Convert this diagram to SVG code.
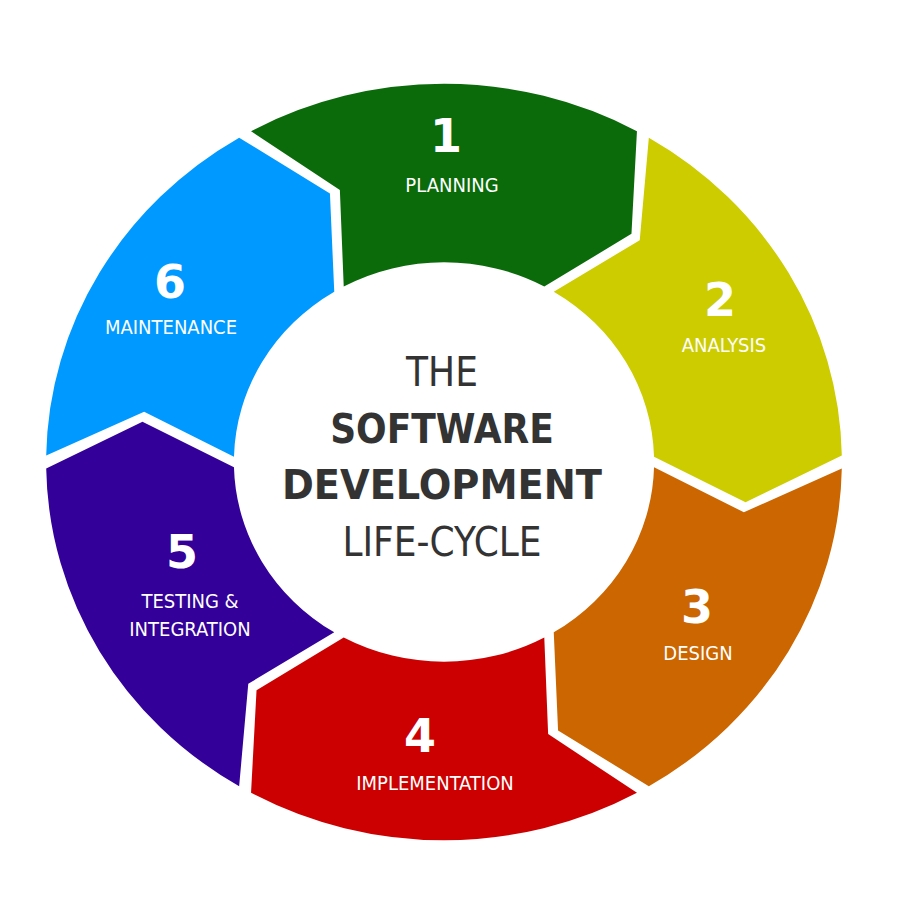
<svg xmlns="http://www.w3.org/2000/svg" width="907" height="915" viewBox="0 0 907 915">
<defs>
<style>
.num{font-family:"DejaVu Sans",sans-serif;font-weight:bold;font-size:46px;fill:#fff;text-anchor:middle}
.lbl{font-family:"DejaVu Sans Condensed","DejaVu Sans",sans-serif;font-size:20px;fill:#fff;text-anchor:middle}
.ctr{font-family:"DejaVu Sans Condensed","DejaVu Sans",sans-serif;font-size:40px;fill:#333;text-anchor:middle}
</style>
<path id="seg" d="M-190.1,-342.8 A392 392 0 0 1 190.1,-342.8 L184.7,-236.4 L98.8,-181.9 A207 207 0 0 0 -98.8,-181.9 L-102.6,-281.9 Z"/>
</defs>
<rect width="907" height="915" fill="#fff"/>
<g transform="translate(444,462) scale(1.015,0.965)">
<g id="n1"><use href="#seg" fill="#0b6b0b"/></g>
<g id="n2"><use href="#seg" fill="#cccc00" transform="rotate(60)"/></g>
<g id="n3"><use href="#seg" fill="#cc6600" transform="rotate(120)"/></g>
<g id="n4"><use href="#seg" fill="#cc0000" transform="rotate(180)"/></g>
<g id="n5"><use href="#seg" fill="#330099" transform="rotate(240)"/></g>
<g id="n6"><use href="#seg" fill="#0099ff" transform="rotate(300)"/></g>
</g>
<g id="connectors"></g>
<g id="labels">
<text class="num" x="446" y="152">1</text><text class="lbl" x="452" y="192">PLANNING</text>
<text class="num" x="720" y="316">2</text><text class="lbl" x="724" y="352">ANALYSIS</text>
<text class="num" x="697" y="623">3</text><text class="lbl" x="698" y="660">DESIGN</text>
<text class="num" x="420" y="752">4</text><text class="lbl" x="435" y="790">IMPLEMENTATION</text>
<text class="num" x="182" y="568">5</text><text class="lbl" x="190" y="608">TESTING &amp;</text><text class="lbl" x="190" y="636">INTEGRATION</text>
<text class="num" x="170" y="298">6</text><text class="lbl" x="171" y="334">MAINTENANCE</text>
</g>
<g id="center">
<text class="ctr" x="442" y="386">THE</text>
<text class="ctr" x="442" y="443" font-weight="bold">SOFTWARE</text>
<text class="ctr" x="442" y="499" font-weight="bold" textLength="320" lengthAdjust="spacingAndGlyphs">DEVELOPMENT</text>
<text class="ctr" x="442" y="556">LIFE-CYCLE</text>
</g>
</svg>
